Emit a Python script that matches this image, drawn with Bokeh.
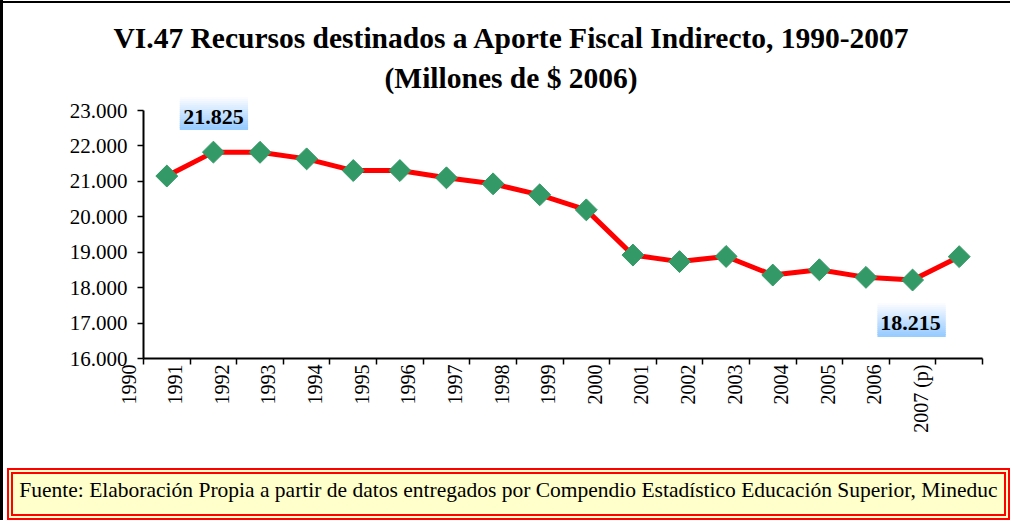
import math
from bokeh.plotting import figure
from bokeh.models import FixedTicker, Label, Title, Div
from bokeh.layouts import column
from bokeh.embed import file_html
from bokeh.resources import INLINE

# ---------------- data ----------------
years = ["1990", "1991", "1992", "1993", "1994", "1995", "1996", "1997", "1998",
         "1999", "2000", "2001", "2002", "2003", "2004", "2005", "2006", "2007 (p)"]
values = [21150, 21825, 21820, 21635, 21305, 21305, 21100, 20930, 20620,
          20195, 18920, 18735, 18880, 18355, 18505, 18290, 18215, 18875]
y_ticks = [16000, 17000, 18000, 19000, 20000, 21000, 22000, 23000]
title_1 = "VI.47 Recursos destinados a Aporte Fiscal Indirecto, 1990-2007"
title_2 = "(Millones de $ 2006)"
source_text = ("Fuente: Elaboración Propia a partir de datos entregados por Compendio "
               "Estadístico Educación Superior, Mineduc")

def fmt(v):
    return f"{v:,}".replace(",", ".")

n = len(years)
xs = [i + 0.5 for i in range(n)]

# ---------------- layout (pixels) ----------------
W = 1010
FIG_H = 468
SRC_H = 52
M = 3                                           # figure offset (room for chart border)
AX_L, AX_R, AX_T, AX_B = 143, 982, 110, 358     # axes box (page pixels)
FR_T, FR_R = 94, 1006                           # frame top / right (page pixels)
ppx = (AX_R - AX_L) / n
ppy = (AX_B - AX_T) / (y_ticks[-1] - y_ticks[0])
x_end = n + (FR_R - AX_R) / ppx
y_end = y_ticks[-1] + (AX_T - FR_T) / ppy

SERIF = "Liberation Serif"

p = figure(width=W - M, height=FIG_H - M, output_backend="svg", toolbar_location=None,
           x_range=(0, x_end), y_range=(y_ticks[0], y_end),
           min_border_left=AX_L - M, min_border_right=W - FR_R, min_border_top=FR_T - M,
           min_border_bottom=FIG_H - AX_B, background_fill_color="white",
           border_fill_color="white", outline_line_color=None,
           margin=(M, 0, 0, M))
p.grid.visible = False

# ---- x axis ----
xa = p.xaxis[0]
xa.bounds = (0, n)
xa.ticker = FixedTicker(ticks=list(range(n)), minor_ticks=list(range(n + 1)))
xa.major_label_overrides = {i: years[i] + "\n " for i in range(n)}
xa.major_label_orientation = math.pi / 2
xa.major_tick_line_color = None
xa.major_tick_out = 0
xa.major_tick_in = 0
xa.minor_tick_out = 6
xa.minor_tick_in = 0
xa.minor_tick_line_color = "black"
xa.minor_tick_line_width = 1.5
xa.axis_line_width = 2
xa.axis_line_color = "black"
xa.major_label_standoff = 0
xa.major_label_text_font = SERIF
xa.major_label_text_font_size = "20px"
xa.major_label_text_color = "black"
xa.major_label_text_line_height = 1.35

# ---- y axis ----
ya = p.yaxis[0]
ya.bounds = (y_ticks[0], y_ticks[-1])
ya.ticker = FixedTicker(ticks=y_ticks, minor_ticks=[])
ya.major_label_overrides = {v: fmt(v) for v in y_ticks}
ya.major_tick_out = 6
ya.major_tick_in = 0
ya.major_tick_line_width = 1.5
ya.major_tick_line_color = "black"
ya.axis_line_width = 2
ya.axis_line_color = "black"
ya.major_label_standoff = 10
ya.major_label_text_font = SERIF
ya.major_label_text_font_size = "21px"
ya.major_label_text_color = "black"

# ---- series ----
p.line(xs, values, line_color="#ff0000", line_width=5)
p.scatter(xs, values, marker="square", size=15.5, angle=math.pi / 4,
          fill_color="#339966", line_color="#339966")

# ---- data labels with gradient boxes ----
def grad_box(xd, yd, left, right, top, bottom, nst=16):
    step = (top - bottom) / nst
    hw = int(round((right - left) / 2))
    for k in range(nst):
        f = k / (nst - 1)
        r = int(round(250 + (153 - 250) * f))
        g = int(round(252 + (204 - 252) * f))
        col = f"#{r:02x}{g:02x}ff"
        yc = top - (k + 0.5) * step
        p.add_layout(Label(x=xd, y=yd, x_offset=(left + right) / 2, y_offset=yc,
                           text=" ", text_font_size="1px", text_color=col,
                           text_align="center", text_baseline="middle",
                           background_fill_color=col,
                           padding=dict(left=hw, right=hw, top=1, bottom=1)))

imax = values.index(max(values))
imin = values.index(min(values))

grad_box(xs[imax], values[imax], -33, 34, 54.6, 22.6)
p.add_layout(Label(x=xs[imax], y=values[imax], x_offset=0, y_offset=35,
                   text=fmt(values[imax]), text_font=SERIF, text_font_style="bold",
                   text_font_size="22px", text_align="center",
                   text_baseline="alphabetic", text_color="black"))

grad_box(xs[imin], values[imin], -35, 33, -23.5, -56.5)
p.add_layout(Label(x=xs[imin], y=values[imin], x_offset=-2, y_offset=-43,
                   text=fmt(values[imin]), text_font=SERIF, text_font_style="bold",
                   text_font_size="22px", text_align="center",
                   text_baseline="alphabetic", text_color="black"))

# ---- titles (above panel; first added is nearest the plot) ----
p.add_layout(Title(text=title_2, align="left", offset=384 - AX_L, standoff=2,
                   text_font=SERIF, text_font_size="29.5px", text_font_style="bold",
                   text_color="black"), "above")
p.add_layout(Title(text=title_1, align="left", offset=113 - AX_L, standoff=9,
                   text_font=SERIF, text_font_size="29.5px", text_font_style="bold",
                   text_color="black"), "above")

# ---- source box ----
src = Div(text=source_text, width=W - 7, height=SRC_H, margin=(0, 0, 0, 7),
          styles={"box-sizing": "border-box", "border": "6px double #ff0000",
                  "background-color": "#ffffcc", "font-family": SERIF,
                  "font-size": "21.5px", "color": "#000000", "text-align": "center",
                  "line-height": "32px", "white-space": "nowrap",
                  "overflow": "hidden"})

layout = column(p, src, spacing=0,
                styles={"background": ("linear-gradient(#000, #000) 0px 1px / 100% 2px no-repeat, "
                                       "linear-gradient(#000, #000) 0px 0px / 3px 100% no-repeat, "
                                       "#ffffff")})

open("out.html", "w").write(file_html(layout, INLINE))
